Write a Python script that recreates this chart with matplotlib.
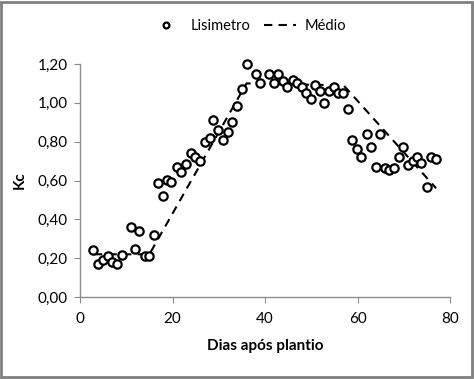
import matplotlib
matplotlib.use("Agg")
import matplotlib.pyplot as plt
from matplotlib.patches import Rectangle
from matplotlib.ticker import FuncFormatter

# Kc measured by lysimeter (days after planting, Kc)
lis_dias = [2.8, 3.9, 5.0, 6.0, 7.0, 8.0, 9.0, 11.0, 11.9, 12.8, 14.1, 15.0, 16.0,
            16.9, 17.9, 18.8, 19.7, 21.0, 21.8, 22.9, 24.0, 24.9, 25.9, 27.0, 28.1,
            28.8, 29.8, 30.9, 32.0, 32.9, 33.9, 35.0, 36.1, 38.1, 38.9, 40.9, 41.9,
            42.8, 43.9, 44.8, 46.1, 46.9, 48.0, 48.9, 49.9, 50.8, 51.9, 52.8, 53.8,
            54.9, 55.8, 56.9, 57.9, 58.8, 59.9, 60.8, 62.1, 62.9, 64.0, 64.9, 65.9,
            66.8, 67.9, 69.0, 69.8, 70.9, 72.0, 72.9, 73.7, 75.0, 75.9, 77.0]
lis_kc = [0.24, 0.17, 0.19, 0.21, 0.18, 0.17, 0.215, 0.36, 0.245, 0.34, 0.21, 0.21, 0.32,
          0.585, 0.52, 0.605, 0.59, 0.667, 0.646, 0.687, 0.744, 0.723, 0.70, 0.80, 0.82,
          0.91, 0.86, 0.81, 0.85, 0.90, 0.985, 1.07, 1.20, 1.15, 1.10, 1.15, 1.10,
          1.15, 1.11, 1.08, 1.12, 1.10, 1.08, 1.05, 1.02, 1.09, 1.06, 1.00, 1.06,
          1.08, 1.05, 1.05, 0.97, 0.81, 0.76, 0.72, 0.84, 0.77, 0.67, 0.84, 0.665,
          0.655, 0.665, 0.72, 0.77, 0.68, 0.70, 0.72, 0.69, 0.565, 0.72, 0.71]

# Average Kc curve
med_dias = [3, 15, 36, 57, 77]
med_kc = [0.22, 0.22, 1.10, 1.09, 0.56]

plt.rcParams['font.family'] = ['Lato', 'DejaVu Sans']

fig = plt.figure(figsize=(4.74, 3.79), dpi=100)
ax = fig.add_axes([80/474, 1-297/379, 370/474, 233/379])

ax.plot(lis_dias, lis_kc, linestyle="none", marker="o", ms=6, mfc="white",
        mec="black", mew=1.6, label="Lisimetro", clip_on=False, zorder=3)
ax.plot(med_dias, med_kc, color="black", lw=1.5, dashes=(4, 3), label="Médio", zorder=2)

ax.set_xlim(0, 80)
ax.set_ylim(0, 1.2)
ax.set_xticks([0, 20, 40, 60, 80])
ax.set_yticks([0, 0.2, 0.4, 0.6, 0.8, 1.0, 1.2])
ax.yaxis.set_major_formatter(FuncFormatter(lambda v, p: f"{v:.2f}".replace(".", ",")))

for s in ["top", "right"]:
    ax.spines[s].set_visible(False)
for s in ["left", "bottom"]:
    ax.spines[s].set_color("#8c8c8c")
    ax.spines[s].set_linewidth(1.0)
ax.tick_params(axis="both", colors="#8c8c8c", labelcolor="black", labelsize=11,
               length=4, direction="out")
ax.tick_params(axis="x", pad=7)
ax.tick_params(axis="y", pad=5)

ax.set_xlabel("Dias após plantio", fontsize=11, fontweight="bold", labelpad=9)
ax.set_ylabel("Kc", fontsize=11, fontweight="bold", labelpad=8)

fig.legend(loc="center", bbox_to_anchor=(0.524, 1-26/379), ncol=2, frameon=False,
           fontsize=10.5, markerscale=0.7, handlelength=2.2, handletextpad=0.6,
           columnspacing=0.9)

# gray frame around the figure
fig.patches.append(Rectangle((0.003, 0.005), 0.992, 0.99, transform=fig.transFigure,
                             fill=False, edgecolor="#808080", lw=2))

fig.savefig("out.png", dpi=100)
